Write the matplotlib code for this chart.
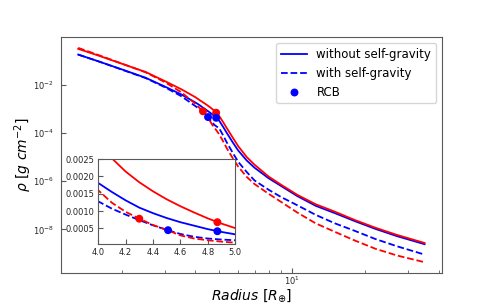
import numpy as np
import matplotlib.pyplot as plt

# radius grid [R_earth] and density
r = [1.32, 1.6, 2.0, 2.5, 3.0, 3.5, 4.0, 4.1, 4.2, 4.3, 4.4, 4.5, 4.6, 4.7, 4.8, 4.9, 5.0,
     5.2, 5.4, 5.7, 6.0, 6.5, 7.0, 8.0, 9.0, 10.5, 12.5, 15, 18, 22, 27, 35]
rho_red = [0.30, 0.158, 0.072, 0.033, 0.0138, 0.0064, 0.0030, 0.00252, 0.00214, 0.00183,
           0.00157, 0.00134, 0.00114, 0.00096, 0.00079, 0.00064, 0.00051,
           2.8e-4, 1.5e-4, 6.3e-5, 2.8e-5, 1.0e-5, 4.8e-6, 1.55e-6, 7.1e-7, 2.7e-7,
           1.1e-7, 5.4e-8, 2.5e-8, 1.17e-8, 5.9e-9, 2.75e-9]
rho_blue = [0.174, 0.091, 0.042, 0.019, 0.0082, 0.0039, 0.00181, 0.00155, 0.00131, 0.00110,
            0.00094, 0.00080, 0.00068, 0.00058, 0.00048, 0.00040, 0.00033,
            1.78e-4, 9.5e-5, 4.0e-5, 1.86e-5, 7.2e-6, 3.6e-6, 1.32e-6, 6.3e-7, 2.4e-7,
            9.5e-8, 4.7e-8, 2.25e-8, 1.05e-8, 5.25e-9, 2.45e-9]
rho_red_sg = [0.33, 0.166, 0.073, 0.032, 0.0125, 0.0048, 0.00160, 0.00124, 0.00098, 0.00078,
              0.00060, 0.00046, 0.00030, 0.00021, 0.00016, 0.00012, 0.00009,
              4.5e-5, 2.2e-5, 8.9e-6, 4.0e-6, 1.5e-6, 7.6e-7, 3.0e-7, 1.38e-7, 5.0e-8,
              1.78e-8, 7.9e-9, 3.55e-9, 1.58e-9, 8.3e-10, 4.4e-10]
rho_blue_sg = [0.174, 0.091, 0.041, 0.0185, 0.0077, 0.0033, 0.00128, 0.00107, 0.00090, 0.00074,
               0.00059, 0.00046, 0.00034, 0.00026, 0.00021, 0.00018, 0.00016,
               7.9e-5, 3.8e-5, 1.48e-5, 6.3e-6, 2.4e-6, 1.07e-6, 4.4e-7, 2.2e-7, 1.0e-7,
               4.0e-8, 1.78e-8, 8.9e-9, 4.0e-9, 2.0e-9, 9.1e-10]

# radiative-convective boundaries
rcb_r = [4.87, 4.87, 4.30, 4.51]
rcb_rho = [0.00068, 0.00042, 0.00078, 0.00045]
rcb_col = ['r', 'b', 'r', 'b']

curves = [(rho_blue, 'b', '-'), (rho_red, 'r', '-'),
          (rho_blue_sg, 'b', '--'), (rho_red_sg, 'r', '--')]

spc = '0.35'
plt.rcParams.update({'axes.edgecolor': spc, 'xtick.color': spc, 'ytick.color': spc,
                     'xtick.labelcolor': '0.15', 'ytick.labelcolor': '0.15'})

fig = plt.figure(figsize=(4.91, 3.07), dpi=100)
ax = fig.add_axes([0.124, 0.111, 0.776, 0.768])
for rho, c, ls in curves:
    ax.plot(r, rho, color=c, ls=ls, lw=1.3)
ax.scatter(rcb_r, rcb_rho, c=rcb_col, s=22, zorder=5)
ax.set_xscale('log')
ax.set_yscale('log')
ax.set_yticks([1e-8, 1e-6, 1e-4, 1e-2])
ax.yaxis.set_minor_locator(plt.NullLocator())
ax.tick_params(which='both', direction='in', labelsize=6)
ax.tick_params(axis='x', which='both', pad=1.5)
ax.tick_params(axis='y', pad=5)
ax.set_xlabel(r'$Radius\ [R_{\oplus}]$', fontsize=10, labelpad=0)
ax.set_ylabel(r'$\rho\ [g\ cm^{-2}]$', fontsize=10, labelpad=-1)

h1, = ax.plot([], [], 'b-', lw=1.3, label='without self-gravity')
h2, = ax.plot([], [], 'b--', lw=1.3, label='with self-gravity')
h3 = ax.scatter([], [], c='b', s=22, label='RCB')
ax.legend(handles=[h1, h2, h3], loc='upper right', fontsize=8.5, handlelength=2.2)

ins = fig.add_axes([0.2, 0.205, 0.279, 0.277])
for rho, c, ls in curves:
    ins.plot(r, rho, color=c, ls=ls, lw=1.3)
ins.scatter(rcb_r, rcb_rho, c=rcb_col, s=22, zorder=5)
ins.set_xlim(4.0, 5.0)
ins.set_ylim(0.00005, 0.0025)
ins.set_yticks([0.0005, 0.0010, 0.0015, 0.0020, 0.0025])
ins.yaxis.set_major_formatter(plt.FormatStrFormatter('%.4f'))
ins.tick_params(direction='in', labelsize=6, pad=2.5)

plt.savefig('out.png', dpi=100)
